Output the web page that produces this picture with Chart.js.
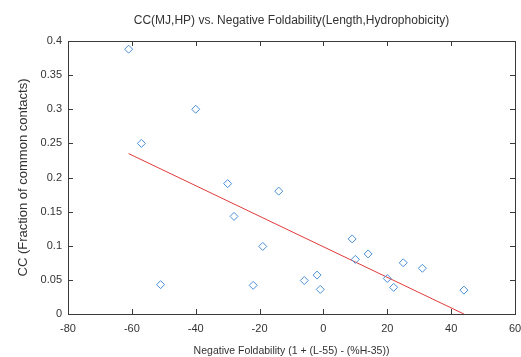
<!DOCTYPE html>
<html>
<head>
<meta charset="utf-8">
<script src="https://cdn.jsdelivr.net/npm/chart.js@4.4.0/dist/chart.umd.min.js"></script>
<style>
    body { margin: 0; background: #fff; }
    #wrap { width: 521px; height: 357px; }
</style>
</head>
<body>
<div id="wrap"><canvas id="cc_chart" width="521" height="357"></canvas></div>
<script>
// foldability vs fraction of common contacts
const foldability = [-61, -57, -51, -40, -30, -28, -22, -19, -14, -6, -2, -1, 9, 10, 14, 20, 22, 25, 31, 44];
const commonContacts = [0.388, 0.25, 0.043, 0.30, 0.191, 0.143, 0.042, 0.099, 0.18, 0.049, 0.057, 0.036, 0.11, 0.08, 0.088, 0.052, 0.039, 0.075, 0.067, 0.035];

// fitted line endpoints
const fitX = [-61, 44];
const fitY = [0.235, 0];

const xTicks = [-80, -60, -40, -20, 0, 20, 40, 60];
const yTicks = [0, 0.05, 0.1, 0.15, 0.2, 0.25, 0.3, 0.35, 0.4];

const textColor = '#333333';
const fontFamily = '"Liberation Sans", Arial, sans-serif';

/* box around the plot + inward ticks on all four sides */
const boxPlugin = {
    id: 'box',
    beforeDatasetsDraw(chart) {
        const ctx = chart.ctx;
        const a = chart.chartArea;
        const xs = chart.scales.x;
        const ys = chart.scales.y;
        const len = 5;
        ctx.save();
        ctx.strokeStyle = '#3a3a3a';
        ctx.lineWidth = 1;
        ctx.strokeRect(Math.round(a.left) + 0.5, Math.round(a.top) + 0.5,
            Math.round(a.right - a.left), Math.round(a.bottom - a.top));
        ctx.beginPath();
        xTicks.forEach(v => {
            const px = Math.round(xs.getPixelForValue(v)) + 0.5;
            ctx.moveTo(px, a.bottom); ctx.lineTo(px, a.bottom - len);
            ctx.moveTo(px, a.top); ctx.lineTo(px, a.top + len);
        });
        yTicks.forEach(v => {
            const py = Math.round(ys.getPixelForValue(v)) + 0.5;
            ctx.moveTo(a.left, py); ctx.lineTo(a.left + len, py);
            ctx.moveTo(a.right, py); ctx.lineTo(a.right - len, py);
        });
        ctx.stroke();
        ctx.restore();
    }
};

const ctx = document.getElementById('cc_chart');

new Chart(ctx, {
    type: 'scatter',
    data: {
        datasets: [{
            label: 'data',
            data: foldability.map((x, i) => ({x: x, y: commonContacts[i]})),
            pointStyle: 'rectRot',
            pointRadius: 4,
            pointBorderWidth: 1,
            borderColor: '#4a8fd8',
            backgroundColor: 'rgba(0,0,0,0)',
            showLine: false
        },
        {
            label: 'fit',
            data: fitX.map((x, i) => ({x: x, y: fitY[i]})),
            showLine: true,
            borderColor: '#e03a3a',
            borderWidth: 1,
            pointRadius: 0,
            fill: false
        }]
    },
    options: {
        responsive: false,
        animation: false,
        layout: {
            padding: {left: 0, right: 6, top: 0, bottom: 0}
        },
        plugins: {
            legend: {display: false},
            tooltip: {enabled: false},
            title: {display: false}
        },
        scales: {
            x: {
                type: 'linear',
                min: -80,
                max: 60,
                afterBuildTicks: (scale) => { scale.ticks = xTicks.map(v => ({value: v})); },
                afterFit: (scale) => {
                    scale.height = 43;
                    scale.paddingLeft = 0;
                    scale.paddingRight = 0;
                },
                grid: {display: false, drawTicks: false},
                border: {display: false},
                ticks: {
                    color: textColor,
                    padding: 8,
                    font: {family: fontFamily, size: 11},
                    maxRotation: 0
                },
                title: {
                    display: true,
                    text: 'Negative Foldability (1 + (L-55) - (%H-35))',
                    color: textColor,
                    font: {family: fontFamily, size: 10.5},
                    padding: {top: 0, bottom: 0}
                }
            },
            // top axis only carries the title, so it sits centred over the plot
            top: {
                type: 'linear',
                position: 'top',
                min: -80,
                max: 60,
                afterFit: (scale) => {
                    scale.height = 41;
                    scale.paddingLeft = 0;
                    scale.paddingRight = 0;
                },
                grid: {display: false, drawTicks: false},
                border: {display: false},
                ticks: {display: false},
                title: {
                    display: true,
                    text: 'CC(MJ,HP) vs. Negative Foldability(Length,Hydrophobicity)',
                    color: textColor,
                    font: {family: fontFamily, size: 12},
                    padding: {top: 13, bottom: 0}
                }
            },
            y: {
                type: 'linear',
                min: 0,
                max: 0.4,
                afterBuildTicks: (scale) => { scale.ticks = yTicks.map(v => ({value: v})); },
                afterFit: (scale) => {
                    scale.width = 68;
                    scale.paddingTop = 0;
                    scale.paddingBottom = 0;
                },
                grid: {display: false, drawTicks: false},
                border: {display: false},
                ticks: {
                    color: textColor,
                    padding: 6,
                    font: {family: fontFamily, size: 11},
                    callback: (v) => String(Math.round(v * 100) / 100)
                },
                title: {
                    display: true,
                    text: 'CC (Fraction of common contacts)',
                    color: textColor,
                    font: {family: fontFamily, size: 13},
                    padding: {top: 16, bottom: 0}
                }
            }
        }
    },
    plugins: [boxPlugin]
});
</script>
</body>
</html>
